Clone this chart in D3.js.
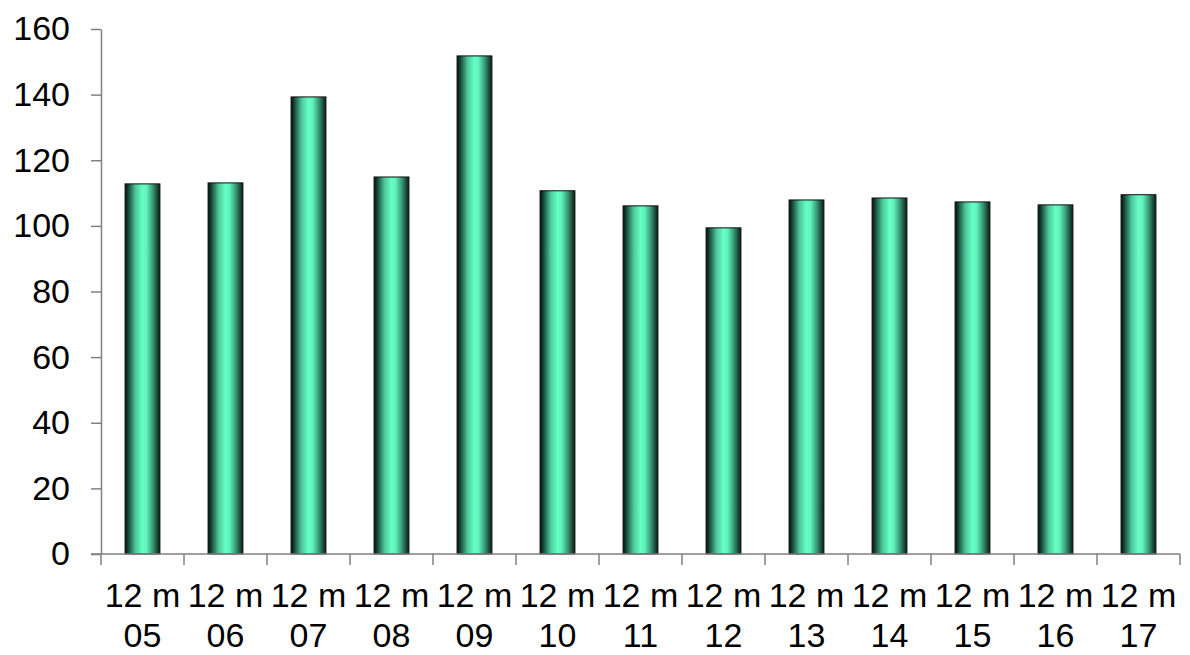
<!DOCTYPE html>
<html>
<head>
<meta charset="utf-8">
<script src="https://cdn.jsdelivr.net/npm/d3@7"></script>
<style>
  body { margin: 0; background: #fff; }
  svg text { font-family: "Liberation Sans", Arial, sans-serif; }
</style>
</head>
<body>
<div id="canvas"></div>
<script>
const categories = ["05", "06", "07", "08", "09", "10", "11", "12", "13", "14", "15", "16", "17"];
const values = [112.8, 113.1, 139.3, 114.9, 151.8, 110.7, 106.1, 99.4, 107.9, 108.5, 107.3, 106.4, 109.5];
const yTicks = [0, 20, 40, 60, 80, 100, 120, 140, 160];
const labelPrefix = "12 m";

const width = 1190;
const height = 655;
const margin = { top: 29, left: 101, bottom: 101, right: 10 };
const iwidth = 1180 - margin.left;
const iheight = height - margin.top - margin.bottom;

const svg = d3.select("#canvas").append("svg")
  .attr("width", width)
  .attr("height", height);

// horizontal shading of the bars
const defs = svg.append("defs");
const grad = defs.append("linearGradient")
  .attr("id", "barGrad")
  .attr("x1", "0%").attr("x2", "100%")
  .attr("y1", "0%").attr("y2", "0%");
[
  [0, "#040d0a"],
  [0.12, "#1c5844"],
  [0.3, "#4cc79a"],
  [0.5, "#66ffc4"],
  [0.62, "#60f2bb"],
  [0.8, "#379573"],
  [1, "#0a1b15"]
].forEach(([o, c]) => grad.append("stop").attr("offset", o).attr("stop-color", c));

const g = svg.append("g")
  .attr("transform", `translate(${margin.left},${margin.top})`);

const y = d3.scaleLinear().domain([0, 160]).range([iheight, 0]);
const x = d3.scaleBand()
  .domain(categories)
  .range([0, iwidth])
  .paddingInner(0.58)
  .paddingOuter(0.29);

// bars
g.selectAll("rect.bar")
  .data(categories.map((c, i) => ({ name: c, value: values[i] })))
  .enter()
  .append("rect")
  .attr("class", "bar")
  .attr("x", d => x(d.name))
  .attr("y", d => y(d.value))
  .attr("width", x.bandwidth())
  .attr("height", d => iheight - y(d.value))
  .style("fill", "url(#barGrad)")
  .style("stroke", "#111")
  .style("stroke-width", 1);

// y axis
const yAxis = g.append("g")
  .classed("y--axis", true)
  .call(d3.axisLeft(y).tickValues(yTicks).tickSize(10).tickPadding(21).tickSizeOuter(0));
yAxis.select(".domain").attr("stroke", "#808080").attr("stroke-width", 1.5);
yAxis.selectAll(".tick line").attr("stroke", "#808080").attr("stroke-width", 1.5);
yAxis.selectAll(".tick text")
  .attr("fill", "#000")
  .style("font-size", "34px");

// x axis: ticks sit on the category boundaries
const xAxis = g.append("g")
  .classed("x--axis", true)
  .attr("transform", `translate(0, ${iheight})`);
xAxis.append("line")
  .attr("x1", -10).attr("x2", iwidth)
  .attr("stroke", "#808080").attr("stroke-width", 1.5);
const bounds = d3.range(categories.length + 1).map(i => i * iwidth / categories.length);
xAxis.selectAll("line.tk")
  .data(bounds)
  .enter()
  .append("line")
  .attr("class", "tk")
  .attr("x1", d => d).attr("x2", d => d)
  .attr("y1", 0).attr("y2", 11)
  .attr("stroke", "#808080").attr("stroke-width", 1.5);

const labels = xAxis.selectAll("text.lbl")
  .data(categories)
  .enter()
  .append("text")
  .attr("class", "lbl")
  .attr("text-anchor", "middle")
  .attr("fill", "#000")
  .style("font-size", "34px")
  .attr("transform", d => `translate(${x(d) + x.bandwidth() / 2}, 0)`);
labels.append("tspan").attr("x", 0).attr("y", 53).text(labelPrefix);
labels.append("tspan").attr("x", 0).attr("y", 93).text(d => d);
</script>
</body>
</html>
